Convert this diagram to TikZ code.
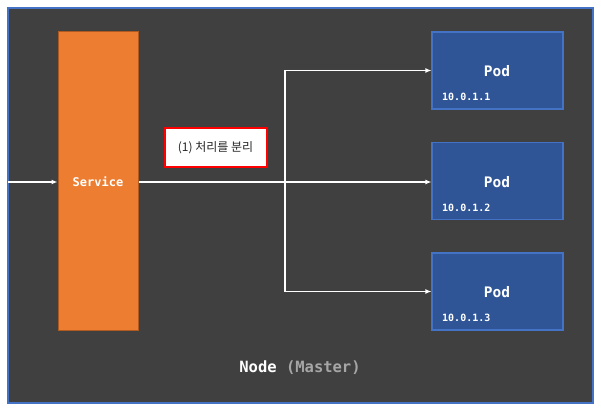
\documentclass[tikz,border=0pt]{standalone}
\usepackage{fontspec}
\setmonofont{DejaVu Sans Mono}
\newfontfamily\krfont{Noto Sans CJK KR}
\usetikzlibrary{arrows.meta}
\definecolor{bgdark}{HTML}{404040}
\definecolor{frameblue}{HTML}{4472C4}
\definecolor{svcorange}{HTML}{ED7D31}
\definecolor{svcedge}{HTML}{AE5A21}
\definecolor{podblue}{HTML}{2F5597}
\definecolor{mastergray}{HTML}{A6A6A6}
\definecolor{labeltext}{HTML}{262626}
\tikzset{
  svcbox/.style={draw=svcedge, line width=1pt, fill=svcorange, minimum width=80pt, minimum height=298pt, inner sep=0pt},
  podbox/.style={draw=frameblue, line width=1.1pt, fill=podblue, minimum width=131pt, minimum height=77pt, inner sep=0pt},
  podtitle/.style={text=white, font=\ttfamily\bfseries\fontsize{14.5}{16}\selectfont, inner sep=0pt},
  podip/.style={text=white, font=\ttfamily\bfseries\fontsize{10}{12}\selectfont, inner sep=0pt, anchor=west},
  flow/.style={draw=white, line width=1.4pt},
  flowarrow/.style={flow, -{Latex[length=6pt,width=5pt]}},
  notebox/.style={draw=red, line width=2pt, fill=white, minimum width=102pt, minimum height=39pt, inner sep=0pt, text=labeltext, font=\krfont\fontsize{12}{14}\selectfont},
}
\begin{document}
\begin{tikzpicture}[x=1pt,y=-1pt]
\useasboundingbox (0,0) rectangle (601,411);
\fill[white] (0,0) rectangle (601,411);
\draw[draw=frameblue, line width=1.5pt, fill=bgdark] (8,8) rectangle (593,403);

\node[svcbox] (svc) at (98,181) {};
\node[text=white, font=\ttfamily\bfseries\fontsize{12}{14}\selectfont, inner sep=0pt] (svclabel) at (98,182) {Service};

\node[podbox] (pod1) at (497.5,70.5) {};
\node[podbox] (pod2) at (497.5,181) {};
\node[podbox] (pod3) at (497.5,291.5) {};
\node[podtitle] (pod1t) at (497,71) {Pod};
\node[podtitle] (pod2t) at (497,182) {Pod};
\node[podtitle] (pod3t) at (497,292) {Pod};
\node[podip] (pod1ip) at (442,97) {10.0.1.1};
\node[podip] (pod2ip) at (442,208) {10.0.1.2};
\node[podip] (pod3ip) at (442,318) {10.0.1.3};

\coordinate (in) at (8,182);
\coordinate (j) at (285,182);
\draw[flowarrow] (in) -- (svc.west |- in);
\draw[flowarrow] (svc.east |- j) -- (pod2.west |- j);
\draw[flowarrow] (j) |- (pod1.west);
\draw[flowarrow] (j) |- (pod3.west);

\node[notebox] (note) at (215.5,148) {(1) 처리를 분리};

\node[inner sep=0pt, font=\ttfamily\bfseries\fontsize{15.5}{17}\selectfont] (nodelabel) at (300,368) {\textcolor{white}{Node} \textcolor{mastergray}{(Master)}};
\end{tikzpicture}
\end{document}
